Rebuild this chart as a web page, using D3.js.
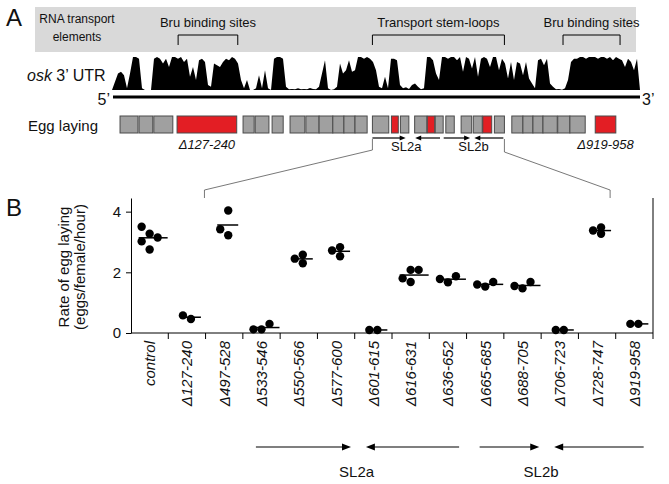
<!DOCTYPE html>
<html><head><meta charset="utf-8">
<script src="https://cdn.jsdelivr.net/npm/d3@7/dist/d3.min.js"></script>
<style>
body{margin:0;background:#fff}
svg{display:block}
text{font-family:"Liberation Sans",Arial,Helvetica,sans-serif;fill:#111}
</style>
</head><body>
<svg id="c" width="669" height="484"></svg>
<script>
// ---------------- DATA ----------------
// Panel B categories and replicate measurements (grouped in dot columns)
const categories = ["control","Δ127-240","Δ497-528","Δ533-546","Δ550-566","Δ577-600","Δ601-615",
  "Δ616-631","Δ636-652","Δ665-685","Δ688-705","Δ706-723","Δ728-747","Δ919-958"];
const rates = [
  [[3.5,3.02],[3.27,2.75],[3.15]],
  [[0.58],[0.46]],
  [[3.42],[4.04,3.22]],
  [[0.12],[0.12],[0.3]],
  [[2.45],[2.58,2.3]],
  [[2.72],[2.83,2.53]],
  [[0.1],[0.1]],
  [[1.8],[1.68,2.08],[2.08]],
  [[1.78],[1.67],[1.87]],
  [[1.6],[1.53],[1.68]],
  [[1.55],[1.47],[1.68]],
  [[0.1],[0.1]],
  [[3.38],[3.48,3.27]],
  [[0.3],[0.3]]
];
const yTicks = [0,2,4];

// Panel A: deletion segments (nt ranges along osk 3' UTR) and whether egg laying fails
const deletionStart = [19,55,83,127,252,275,307,341,371,396,422,443,464,497,533,550,577,601,616,636,665,688,706,728,761,782,801,820,848,871,919];
const deletionEnd   = [53,81,119,240,273,301,328,369,396,422,443,464,487,528,546,566,600,615,631,652,685,705,723,747,782,801,820,847,871,900,958];
const defective = ["127-240","533-546","601-615","706-723","919-958"];
const labelledDeletions = ["127-240","919-958"];
const regionNames = ["Bru binding sites","Transport stem-loops","Bru binding sites"];
const regionStart = [129,497,858];
const regionEnd = [242,747,966];
const armNames = ["SL2a","SL2b"];
const armFrom = [497,625,632,745];
const armTo   = [560,578,682,690];

// Conservation profile along the 3' UTR (relative height, 0-1)
const conservation = [0,0.25,0.5,0.55,0.45,0.05,0.5,1,1,0.95,0.05,0,0,0,0.95,1,0.95,0.8,0.95,0.7,
 1,1,0.95,1,0.85,0.95,0.4,0.7,0.3,0.9,0.95,0.85,0.15,0.1,0.8,0.75,0.7,0.85,0.95,0.9,
 1,0.95,0.8,0.3,0.05,0.3,0,0,0.05,0.45,0.05,0.6,0.05,0,0.95,1,1,0.95,0.1,0.02,
 0.03,0.02,0.05,0.02,0.03,0.02,0.06,0.03,0.02,0.1,0.5,0.9,0.05,0,0.02,0.1,0.8,0.5,0.6,0.9,
 0.55,0.6,1,1,0.95,1,0.95,0.85,0.6,0.1,0.05,0.4,0.05,0.95,0.95,0.9,0.15,0.05,0.08,0.03,
 0.15,0.2,0.1,0.02,0.05,1,1,0.9,0.5,0.3,1,1,0.95,1,1,0.9,1,0.55,1,0.95,
 0.65,1,0.4,0.95,1,0.95,0.7,1,1,0.6,0.95,0.8,0.35,0.85,0.3,0.85,0.8,0.45,0.85,0.35,
 0.2,0.05,0.9,0.95,0.75,0.95,0.2,0.1,0.02,0.03,0.01,0.05,0.3,0.85,0.95,0.95,1,1,0.95,1,
 1,1,0.95,1,1,0.95,1,0.9,1,0.95,0.9,0.7,0.95,0.85,0.6,0.95,0];

// ---------------- DRAW ----------------
const svg = d3.select("#c");
const RED = "#e31e24", GREY = "#a0a0a0";

// ---- Panel A ----
svg.append("text").attr("x",6).attr("y",26).attr("font-size",24).text("A");
svg.append("rect").attr("x",35).attr("y",7).attr("width",601).attr("height",45).attr("fill","#d9d9d9");
const ga = svg.append("g").attr("font-size",13).attr("text-anchor","middle");
ga.append("text").attr("x",77).attr("y",23).attr("font-size",12).text("RNA transport");
ga.append("text").attr("x",77).attr("y",41).attr("font-size",12).text("elements");

const nt = d3.scaleLinear().domain([0,1000]).range([110,638]);
regionNames.forEach((n,i)=>{
  const x0 = nt(regionStart[i]), x1 = nt(regionEnd[i]);
  ga.append("text").attr("x",(x0+x1)/2).attr("y",27).text(n);
  svg.append("path").attr("d",`M${x0},45V35H${x1}V45`).attr("fill","none").attr("stroke","#000").attr("stroke-width",1);
});

// conservation track
const tx = d3.scaleLinear().domain([0,conservation.length-1]).range([112,640]);
const ty = d3.scaleLinear().domain([0,1]).range([90,57]);
svg.append("path").datum(conservation)
  .attr("d",d3.area().x((d,i)=>tx(i)).y0(ty(0)).y1(d=>ty(d)))
  .attr("fill","#000");
svg.append("line").attr("x1",113).attr("x2",640).attr("y1",97).attr("y2",97).attr("stroke","#000").attr("stroke-width",3);
svg.append("text").attr("x",110).attr("y",105).attr("font-size",16).attr("text-anchor","end").text("5’");
svg.append("text").attr("x",642).attr("y",105).attr("font-size",16).text("3’");
const osk = svg.append("text").attr("x",27).attr("y",81).attr("font-size",16);
osk.append("tspan").attr("font-style","italic").text("osk");
osk.append("tspan").text(" 3’ UTR");

svg.append("text").attr("x",28).attr("y",131).attr("font-size",15).text("Egg laying");
deletionStart.forEach((s,i)=>{
  const key = s+"-"+deletionEnd[i];
  svg.append("rect").attr("x",nt(s)).attr("y",116).attr("width",nt(deletionEnd[i])-nt(s)).attr("height",17)
    .attr("fill",defective.includes(key)?RED:GREY).attr("stroke","#4a4a4a").attr("stroke-width",1);
  if(labelledDeletions.includes(key)){
    svg.append("text").attr("x",(nt(s)+nt(deletionEnd[i]))/2).attr("y",149).attr("font-size",13)
      .attr("font-style","italic").attr("text-anchor","middle").text("Δ"+key);
  }
});

function arrow(x1,x2,y,head,w){
  const dir = Math.sign(x2-x1);
  svg.append("line").attr("x1",x1).attr("x2",x2-dir*head*0.8).attr("y1",y).attr("y2",y).attr("stroke","#000").attr("stroke-width",1.2);
  svg.append("path").attr("d",`M${x2},${y}L${x2-dir*head},${y-w}L${x2-dir*head},${y+w}Z`).attr("fill","#000");
}
armFrom.forEach((f,i)=>arrow(nt(f),nt(armTo[i]),138,6,2.6));
armNames.forEach((n,i)=>{
  const c = (nt(armFrom[2*i])+nt(armFrom[2*i+1]))/2;
  svg.append("text").attr("x",c).attr("y",151).attr("font-size",13).attr("text-anchor","middle").text(n);
});

// zoom connector lines
const slx0 = nt(regionStart[1]), slx1 = nt(regionEnd[1]);

// ---- Panel B ----
svg.append("text").attr("x",6).attr("y",216).attr("font-size",24).text("B");
const x = d3.scaleBand().domain(categories).range([131,653]);
const y = d3.scaleLinear().domain([0,4.45]).range([333,198]);

svg.append("path").attr("d",`M${slx0},139V150L${x.range()[0]+x.step()*1.97},190V198`).attr("fill","none").attr("stroke","#555").attr("stroke-width",0.8);
svg.append("path").attr("d",`M${slx1},139V152L${x.range()[0]+x.step()*12.85},190V198`).attr("fill","none").attr("stroke","#555").attr("stroke-width",0.8);

const gy = svg.append("g").attr("transform",`translate(${x.range()[0]},0)`)
  .call(d3.axisLeft(y).tickValues(yTicks).tickFormat(d3.format("d")).tickSize(5).tickSizeOuter(0).tickPadding(5));
gy.selectAll("text").attr("font-size",15).attr("font-family",'"Liberation Sans",Arial,sans-serif').attr("fill","#111");
gy.selectAll("line,path").attr("stroke","#000");

const gx = svg.append("g");
gx.append("line").attr("x1",x.range()[0]).attr("x2",x.range()[1]).attr("y1",y(0)).attr("y2",y(0)).attr("stroke","#000");
gx.append("line").attr("x1",x.range()[1]).attr("x2",x.range()[1]).attr("y1",y.range()[1]).attr("y2",y(0)).attr("stroke","#000");
d3.range(1,categories.length+1).forEach(i=>{
  const xx = x.range()[0]+i*x.step();
  gx.append("line").attr("x1",xx).attr("x2",xx).attr("y1",y(0)).attr("y2",y(0)+6).attr("stroke","#000");
});
categories.forEach(c=>{
  gx.append("text").attr("transform",`translate(${x(c)+x.bandwidth()/2+5.5},341) rotate(-90)`)
    .attr("text-anchor","end").attr("font-size",15).attr("font-style","italic").text(c);
});

svg.append("text").attr("transform","translate(69,267) rotate(-90)").attr("text-anchor","middle").attr("font-size",15).text("Rate of egg laying");
svg.append("text").attr("transform","translate(85,267) rotate(-90)").attr("text-anchor","middle").attr("font-size",15).text("(eggs/female/hour)");

// dots and means
const colGap = 8;
categories.forEach((c,ci)=>{
  const cols = rates[ci];
  const cx = x(c)+x.bandwidth()/2;
  const k = cols.length;
  const all = cols.flat();
  cols.forEach((col,j)=>{
    const off = (j-(k-1)/2)*colGap;
    col.forEach(v=>{
      svg.append("circle").attr("cx",cx+off).attr("cy",y(v)).attr("r",4.2).attr("fill","#000");
    });
  });
  const minOff = -(k-1)/2*colGap, maxOff = (k-1)/2*colGap;
  const m = d3.mean(all);
  svg.append("line").attr("x1",cx+minOff-3).attr("x2",cx+maxOff+10).attr("y1",y(m)).attr("y2",y(m)).attr("stroke","#000").attr("stroke-width",1.5);
});

// stem-loop arm arrows under panel B
const bx = f => x.range()[0]+f*x.step();
arrow(bx(3.35),bx(5.9),447,9,3.5);
arrow(bx(8.8),bx(6.3),447,9,3.5);
arrow(bx(9.35),bx(10.95),447,9,3.5);
arrow(bx(13.75),bx(11.35),447,9,3.5);
svg.append("text").attr("x",bx(6.05)).attr("y",477).attr("font-size",15).attr("text-anchor","middle").text(armNames[0]);
svg.append("text").attr("x",bx(11.0)).attr("y",477).attr("font-size",15).attr("text-anchor","middle").text(armNames[1]);
</script>
</body></html>
